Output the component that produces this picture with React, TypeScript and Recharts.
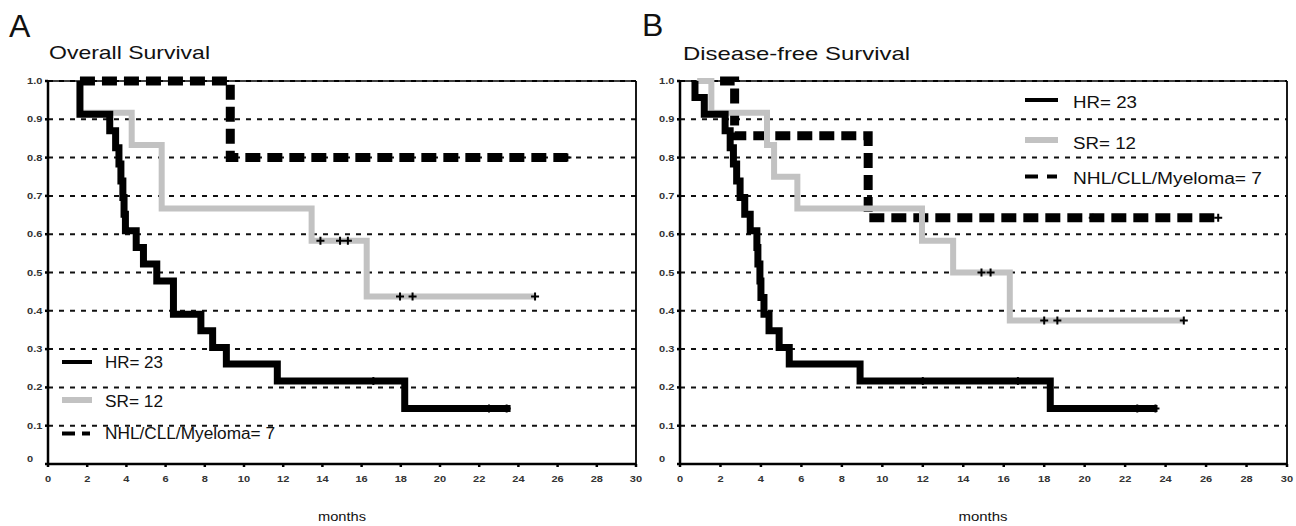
import React from 'react';
import { ComposedChart, Line, Scatter, XAxis, YAxis, CartesianGrid, ReferenceLine } from 'recharts';

const FONT = '"Liberation Sans", Arial, sans-serif';
const GRAY = '#c2c2c2';

const monthTicks = [0, 2, 4, 6, 8, 10, 12, 14, 16, 18, 20, 22, 24, 26, 28, 30];
const survTicks = [0, 0.1, 0.2, 0.3, 0.4, 0.5, 0.6, 0.7, 0.8, 0.9, 1.0];

// A: overall survival
const osHrTimes = [1.63, 1.63, 3.15, 3.45, 3.62, 3.72, 3.82, 3.88, 3.95, 4.5, 4.87, 5.55, 6.4, 7.8, 8.4, 9.1, 11.7, 18.2, 23.6];
const osHrSurv = [1.0, 0.913, 0.87, 0.826, 0.783, 0.739, 0.696, 0.652, 0.609, 0.565, 0.522, 0.478, 0.391, 0.348, 0.304, 0.261, 0.217, 0.145, 0.145];
const osHrCensT = [16.6, 22.5, 23.4];
const osHrCensS = [0.217, 0.145, 0.145];

const osSrTimes = [1.63, 1.63, 4.27, 5.8, 13.45, 16.26, 24.85];
const osSrSurv = [1.0, 0.917, 0.833, 0.667, 0.583, 0.4375, 0.4375];
const osSrCensT = [13.9, 14.9, 15.3, 17.96, 18.6, 24.85];
const osSrCensS = [0.583, 0.583, 0.583, 0.4375, 0.4375, 0.4375];

const osNhlTimes = [1.63, 9.3, 26.5];
const osNhlSurv = [1.0, 0.8, 0.8];
const osNhlCensT = [26.5];
const osNhlCensS = [0.8];

// B: disease-free survival
const dfsHrTimes = [0.74, 0.74, 1.2, 2.23, 2.48, 2.64, 2.8, 2.97, 3.2, 3.47, 3.8, 3.85, 3.95, 4.0, 4.15, 4.4, 4.9, 5.4, 8.9, 18.3, 23.6];
const dfsHrSurv = [1.0, 0.957, 0.913, 0.87, 0.826, 0.783, 0.739, 0.696, 0.652, 0.609, 0.565, 0.522, 0.478, 0.435, 0.391, 0.348, 0.304, 0.261, 0.217, 0.145, 0.145];
const dfsHrCensT = [12.0, 16.7, 22.6, 23.5];
const dfsHrCensS = [0.217, 0.217, 0.145, 0.145];

const dfsSrTimes = [0.85, 1.55, 4.3, 4.65, 5.8, 11.96, 13.5, 16.3, 24.9];
const dfsSrSurv = [1.0, 0.917, 0.833, 0.75, 0.667, 0.583, 0.5, 0.375, 0.375];
const dfsSrCensT = [14.9, 15.35, 18.0, 18.65, 24.9];
const dfsSrCensS = [0.5, 0.5, 0.375, 0.375, 0.375];

const dfsNhlTimes = [1.98, 2.7, 9.3, 26.6];
const dfsNhlSurv = [1.0, 0.857, 0.643, 0.643];
const dfsNhlCensT = [20.4, 26.6];
const dfsNhlCensS = [0.643, 0.643];

const pts = (ts: number[], ss: number[]) => ts.map((t, i) => ({ t, s: ss[i] }));

const Plus = (props: any) => {
  const { cx, cy } = props;
  return (
    <path d={`M${cx - 4},${cy}H${cx + 4}M${cx},${cy - 4}V${cy + 4}`} stroke="#000" strokeWidth={2} fill="none" />
  );
};

const YTick = (props: any) => {
  const { x, y, payload } = props;
  const v = payload.value;
  const label = v === 0 ? '0' : v.toFixed(1);
  return (
    <text
      x={0}
      y={0}
      transform={`translate(${x - 18},${y + (v === 0 ? -2 : 3)}) scale(1.3,1)`}
      fontSize={8.5}
      fontWeight="bold"
      fill="#333"
      fontFamily={FONT}
    >
      {label}
    </text>
  );
};

const XTick = (props: any) => {
  const { x, y, payload } = props;
  return (
    <text
      x={0}
      y={0}
      transform={`translate(${x},${y + 15}) scale(1.3,1)`}
      textAnchor="middle"
      fontSize={8.5}
      fontWeight="bold"
      fill="#333"
      fontFamily={FONT}
    >
      {payload.value}
    </text>
  );
};

interface PanelProps {
  left: number;
  margin: { top: number; right: number; left: number; bottom: number };
  hr: { t: number; s: number }[];
  sr: { t: number; s: number }[];
  nhl: { t: number; s: number }[];
  censors: { t: number; s: number }[][];
}

const Panel = ({ left, margin, hr, sr, nhl, censors }: PanelProps) => (
  <div style={{ position: 'absolute', left, top: 0 }}>
    <ComposedChart width={648} height={526} margin={margin}>
      <CartesianGrid vertical={false} stroke="#111" strokeWidth={2} strokeDasharray="5 6" />
      <XAxis
        type="number"
        dataKey="t"
        domain={[0, 30]}
        ticks={monthTicks}
        height={30}
        axisLine={{ stroke: '#000', strokeWidth: 2.5 }}
        tickLine={{ stroke: '#000', strokeWidth: 2.5 }}
        tickSize={3}
        tickMargin={0}
        tick={<XTick />}
        interval={0}
      />
      <YAxis
        type="number"
        domain={[0, 1]}
        ticks={survTicks}
        width={30}
        axisLine={{ stroke: '#000', strokeWidth: 2.5 }}
        tickLine={{ stroke: '#000', strokeWidth: 2.5 }}
        tickSize={3}
        tickMargin={0}
        tick={<YTick />}
        interval={0}
      />
      <ReferenceLine y={1} stroke="#000" strokeWidth={1.3} />
      <ReferenceLine x={30} stroke="#000" strokeWidth={1.8} />
      <Line data={nhl} dataKey="s" type="stepAfter" stroke="#000" strokeWidth={9} strokeDasharray="15 7" dot={false} isAnimationActive={false} />
      <Line data={sr} dataKey="s" type="stepAfter" stroke={GRAY} strokeWidth={6} dot={false} isAnimationActive={false} />
      <Line data={hr} dataKey="s" type="stepAfter" stroke="#000" strokeWidth={7} dot={false} isAnimationActive={false} />
      {censors.map((c, i) => (
        <Scatter key={i} data={c} dataKey="s" shape={<Plus />} isAnimationActive={false} />
      ))}
    </ComposedChart>
  </div>
);

const T = (p: { x: number; y: number; size: number; len?: number; anchor?: string; children: string }) => (
  <text
    x={p.x}
    y={p.y}
    fontSize={p.size}
    fontFamily={FONT}
    fill="#111"
    textAnchor={p.anchor || 'start'}
    textLength={p.len}
    lengthAdjust={p.len ? 'spacingAndGlyphs' : undefined}
  >
    {p.children}
  </text>
);

export default function App() {
  return (
    <div style={{ position: 'absolute', left: 0, top: 0, width: 1296, height: 526, background: '#fff', overflow: 'hidden' }}>
      <Panel
        left={0}
        margin={{ top: 81, right: 12, left: 18, bottom: 32 }}
        hr={pts(osHrTimes, osHrSurv)}
        sr={pts(osSrTimes, osSrSurv)}
        nhl={pts(osNhlTimes, osNhlSurv)}
        censors={[pts(osHrCensT, osHrCensS), pts(osSrCensT, osSrCensS), pts(osNhlCensT, osNhlCensS)]}
      />
      <Panel
        left={648}
        margin={{ top: 81, right: 9, left: 2, bottom: 32 }}
        hr={pts(dfsHrTimes, dfsHrSurv)}
        sr={pts(dfsSrTimes, dfsSrSurv)}
        nhl={pts(dfsNhlTimes, dfsNhlSurv)}
        censors={[pts(dfsHrCensT, dfsHrCensS), pts(dfsSrCensT, dfsSrCensS), pts(dfsNhlCensT, dfsNhlCensS)]}
      />
      <svg width={1296} height={526} style={{ position: 'absolute', left: 0, top: 0, pointerEvents: 'none' }}>
        <T x={9} y={37} size={32}>A</T>
        <T x={49} y={59} size={19} len={161}>Overall Survival</T>
        <T x={642} y={36} size={32}>B</T>
        <T x={683} y={60} size={19} len={227}>Disease-free Survival</T>
        <T x={342} y={521} size={13} len={48} anchor="middle">months</T>
        <T x={983} y={521} size={13} len={49} anchor="middle">months</T>

        <line x1={62} x2={92} y1={362} y2={362} stroke="#000" strokeWidth={4} />
        <T x={105} y={368} size={16} len={58}>HR= 23</T>
        <line x1={62} x2={92} y1={400} y2={400} stroke={GRAY} strokeWidth={6} />
        <T x={105} y={407} size={16} len={58}>SR= 12</T>
        <line x1={62} x2={75} y1={433.5} y2={433.5} stroke="#000" strokeWidth={4} />
        <line x1={82} x2={90} y1={433.5} y2={433.5} stroke="#000" strokeWidth={4} />
        <T x={105} y={439} size={16} len={170}>NHL/CLL/Myeloma= 7</T>

        <line x1={1025} x2={1058} y1={100} y2={100} stroke="#000" strokeWidth={4} />
        <T x={1073} y={107.5} size={16} len={64}>HR= 23</T>
        <line x1={1025} x2={1058} y1={140} y2={140} stroke={GRAY} strokeWidth={6} />
        <T x={1073} y={149} size={16} len={63}>SR= 12</T>
        <line x1={1025} x2={1038} y1={176.5} y2={176.5} stroke="#000" strokeWidth={4} />
        <line x1={1047} x2={1057} y1={176.5} y2={176.5} stroke="#000" strokeWidth={4} />
        <T x={1073} y={184} size={16} len={189}>NHL/CLL/Myeloma= 7</T>
      </svg>
    </div>
  );
}
